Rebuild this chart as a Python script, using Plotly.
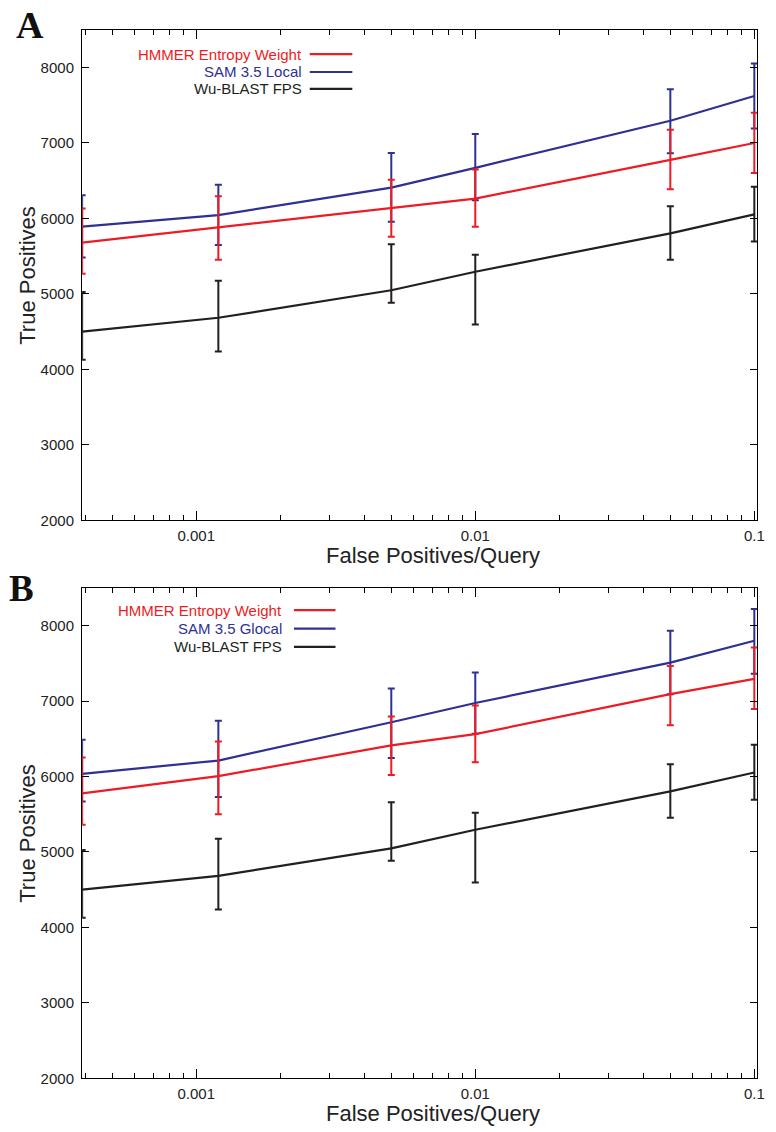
import math
import plotly.graph_objects as go

W, H = 776, 1132

# ---------------- data ----------------
fpq = [0.00039, 0.0012, 0.005, 0.01, 0.05, 0.1]

# Panel A
hmmer_a = [5680, 5882, 6132, 6263, 6776, 7000]
hmmer_a_hi = [6132, 6293, 6513, 6649, 7175, 7400]
hmmer_a_lo = [5267, 5452, 5759, 5890, 6386, 6603]

sam_local = [5891, 6044, 6408, 6671, 7294, 7623]
sam_local_hi = [6307, 6447, 6868, 7118, 7711, 8053]
sam_local_lo = [5482, 5649, 5956, 6241, 6864, 7193]

# Wu-BLAST (same in both panels)
wublast = [4500, 4684, 5048, 5294, 5803, 6053]
wublast_hi = [5026, 5175, 5658, 5518, 6162, 6421]
wublast_lo = [4127, 4237, 4882, 4596, 5452, 5693]

# Panel B
hmmer_b = [5776, 6004, 6412, 6561, 7092, 7293]
hmmer_b_hi = [6250, 6465, 6794, 6939, 7465, 7708]
hmmer_b_lo = [5360, 5500, 6018, 6189, 6680, 6895]

sam_glocal = [6035, 6211, 6719, 6974, 7509, 7798]
sam_glocal_hi = [6487, 6737, 7167, 7377, 7930, 8219]
sam_glocal_lo = [5667, 5728, 6246, 6565, 7090, 7360]

x_tickvals = [0.001, 0.01, 0.1]
x_ticktext = ["0.001", "0.01", "0.1"]
y_tickvals = [2000, 3000, 4000, 5000, 6000, 7000, 8000]

RED = "rgb(237,28,36)"
BLUE = "rgb(46,49,146)"
BLACK = "rgb(35,31,32)"
FONT = "Liberation Sans"

legend_a = [("HMMER Entropy Weight", RED), ("SAM 3.5 Local", BLUE), ("Wu-BLAST FPS", BLACK)]
legend_b = [("HMMER Entropy Weight", RED), ("SAM 3.5 Glocal", BLUE), ("Wu-BLAST FPS", BLACK)]


def px(x):
    return x / W


def py(y):
    return 1 - y / H


def trace(y, hi, lo, color, xa, ya):
    return go.Scatter(
        x=fpq, y=y, mode="lines", xaxis=xa, yaxis=ya,
        line=dict(color=color, width=2.2),
        error_y=dict(type="data", symmetric=False,
                     array=[h - v for h, v in zip(hi, y)],
                     arrayminus=[v - l for l, v in zip(lo, y)],
                     color=color, thickness=2, width=3.5),
        showlegend=False, hoverinfo="skip",
    )


fig = go.Figure()
fig.add_trace(trace(wublast, wublast_hi, wublast_lo, BLACK, "x", "y"))
fig.add_trace(trace(sam_local, sam_local_hi, sam_local_lo, BLUE, "x", "y"))
fig.add_trace(trace(hmmer_a, hmmer_a_hi, hmmer_a_lo, RED, "x", "y"))
fig.add_trace(trace(wublast, wublast_hi, wublast_lo, BLACK, "x2", "y2"))
fig.add_trace(trace(sam_glocal, sam_glocal_hi, sam_glocal_lo, BLUE, "x2", "y2"))
fig.add_trace(trace(hmmer_b, hmmer_b_hi, hmmer_b_lo, RED, "x2", "y2"))

xdom = [px(83), px(765)]
ydomA = [py(524), py(30)]
ydomB = [py(1086), py(592)]

xrange_ = [math.log10(0.00039), -0.99]

xcommon = dict(
    type="log", range=xrange_, domain=xdom,
    tickmode="array", tickvals=x_tickvals, ticktext=x_ticktext,
    ticks="inside", ticklen=9, tickwidth=1, tickcolor="black",
    showline=True, linecolor="black", linewidth=1.3, mirror="allticks",
    showgrid=False, zeroline=False,
    tickfont=dict(family=FONT, size=15, color="#222"),
    ticklabelstandoff=2,
    minor=dict(dtick="D1", ticks="inside", ticklen=5, tickwidth=1, tickcolor="black", showgrid=False),
)
ycommon = dict(
    range=[2000, 8500], tickmode="array", tickvals=y_tickvals,
    ticks="inside", ticklen=7, tickwidth=1, tickcolor="black",
    showline=True, linecolor="black", linewidth=1.3, mirror="allticks",
    showgrid=False, zeroline=False,
    tickfont=dict(family=FONT, size=15, color="#222"),
    ticklabelstandoff=4,
)

fig.update_layout(
    width=W, height=H, margin=dict(l=0, r=0, t=0, b=0),
    paper_bgcolor="white", plot_bgcolor="white",
    xaxis=dict(xcommon, anchor="y"),
    yaxis=dict(ycommon, domain=ydomA, anchor="x"),
    xaxis2=dict(xcommon, anchor="y2"),
    yaxis2=dict(ycommon, domain=ydomB, anchor="x2"),
    showlegend=False,
)

ann = []
shapes = []

# axis titles and panel letters
for top, bottom, letter, lx, ly, lsize in [(30, 524, "A", 14, 25, 38), (592, 1086, "B", 7, 593, 37)]:
    ann.append(dict(text="False Positives/Query", x=px(438), y=py(bottom + 35), xref="paper", yref="paper",
                    xanchor="center", yanchor="middle", showarrow=False,
                    font=dict(family=FONT, size=22, color="#222")))
    ann.append(dict(text="True Positives", x=px(27), y=py(top + 247), xref="paper", yref="paper",
                    xanchor="center", yanchor="middle", showarrow=False, textangle=-90,
                    font=dict(family=FONT, size=22, color="#222")))
    ann.append(dict(text="<b>%s</b>" % letter, x=px(lx), y=py(ly), xref="paper", yref="paper",
                    xanchor="left", yanchor="middle", showarrow=False,
                    font=dict(family="Liberation Serif", size=lsize, color="#111")))

# legends (text right-aligned, line sample on the right)
for items, rows, tx, l0, l1 in [
    (legend_a, [54.5, 72.5, 89.5], 307, 313, 356),
    (legend_b, [614.5, 633, 651.5], 287, 297, 339),
]:
    for (label, color), ry in zip(items, rows):
        ann.append(dict(text=label, x=px(tx), y=py(ry), xref="paper", yref="paper",
                        xanchor="right", yanchor="middle", showarrow=False,
                        font=dict(family=FONT, size=15, color=color)))
        shapes.append(dict(type="line", xref="paper", yref="paper",
                           x0=px(l0), x1=px(l1), y0=py(ry), y1=py(ry),
                           line=dict(color=color, width=2.2)))

fig.update_layout(annotations=ann, shapes=shapes)
fig.write_html("out.html")
